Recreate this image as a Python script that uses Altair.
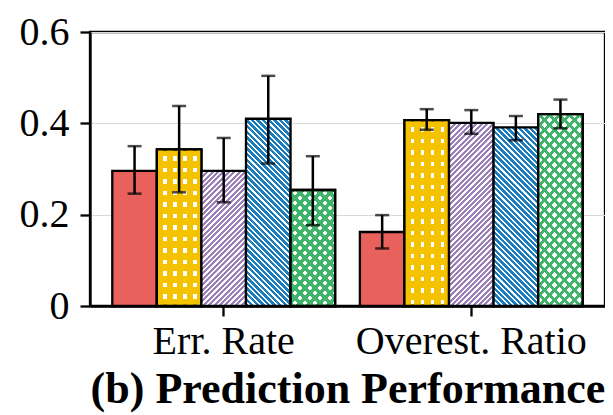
import altair as alt
import pandas as pd

# ---------------- data ----------------
groups = ["Err. Rate", "Overest. Ratio"]
series = ["M1", "M2", "M3", "M4", "M5"]

err_rate_mean = [0.296, 0.343, 0.296, 0.410, 0.254]
err_rate_lo = [0.246, 0.249, 0.227, 0.312, 0.177]
err_rate_hi = [0.350, 0.438, 0.368, 0.504, 0.328]

over_mean = [0.162, 0.407, 0.401, 0.391, 0.420]
over_lo = [0.126, 0.386, 0.377, 0.363, 0.389]
over_hi = [0.199, 0.431, 0.429, 0.416, 0.452]

colors = ["#E8615D", "#F5C200", "#9B80BA", "#1B7DBE", "#40B46B"]
y_ticks = [0, 0.2, 0.4, 0.6]
title_text = "(b) Prediction Performance"

rows = []
for g, m, lo, hi in [(groups[0], err_rate_mean, err_rate_lo, err_rate_hi),
                     (groups[1], over_mean, over_lo, over_hi)]:
    for s, v, l, h in zip(series, m, lo, hi):
        rows.append(dict(group=g, series=s, value=v, lo=l, hi=h))
df = pd.DataFrame(rows)

# ---------------- layout ----------------
W, H = 515, 274
YMAX = 0.6
P_IN, P_OUT = 0.1, 0.09
step = W / (len(groups) - P_IN + 2 * P_OUT)
bar_w = step * (1 - P_IN) / len(series)
FONT = "Liberation Serif"
WHITE = "#FFFFFF"
CLEAR = "rgba(255,255,255,0)"


def stripe_gradient(col_a, col_b, period, frac, direction, w, h):
    """Hatch pattern built from a hard-stop linear gradient (bbox units)."""
    if direction == "h":
        x1, y1, x2, y2, length = 0, 0, 0, 1, h
    elif direction == "v":
        x1, y1, x2, y2, length = 0, 0, 1, 0, w
    else:
        a = (w + h) * w * h / (w * w + h * h)
        length = w + h
        if direction == "up":
            x1, y1, x2, y2 = 0, 0, a / h, a / w
        else:
            x1, y1, x2, y2 = 0, 1, a / h, 1 - a / w
    pt = period / length
    stops = []
    k = 0
    while k * pt < 1:
        o0 = k * pt
        o1 = min(1.0, (k + frac) * pt)
        o2 = min(1.0, (k + 1) * pt)
        stops += [(o0, col_a), (o1, col_a), (o1, col_b), (o2, col_b)]
        k += 1
    return alt.LinearGradient(
        gradient="linear",
        stops=[alt.GradientStop(offset=round(o, 5), color=c) for o, c in stops],
        x1=x1, y1=y1, x2=x2, y2=y2,
    )


# ---------------- encodings ----------------
x_axis = alt.Axis(labelAngle=0, labelPadding=5, title=title_text, labelLimit=0,
                  titlePadding=6, grid=False, tickSize=10)
y_axis = alt.Axis(values=y_ticks, grid=True, tickSize=10, labelPadding=11,
                  labelExpr="datum.value == 0 ? '0' : format(datum.value, '.1f')")
x_enc = alt.X("group:N", sort=groups, axis=x_axis,
              scale=alt.Scale(paddingInner=P_IN, paddingOuter=P_OUT))
xo_enc = alt.XOffset("series:N", sort=series,
                     scale=alt.Scale(domain=series, paddingInner=0, paddingOuter=0))
y_scale = alt.Scale(domain=[0, YMAX], nice=False, zero=True)


def yenc(field):
    return alt.Y(f"{field}:Q", scale=y_scale, axis=y_axis, title=None)


def bar_layer(fill, filt):
    return alt.Chart(df).transform_filter(filt).mark_bar(
        fill=fill, stroke="black", strokeWidth=2.3
    ).encode(x=x_enc, xOffset=xo_enc, y=yenc("value"))


layers = []
# red: solid
layers.append(bar_layer(colors[0], alt.datum.series == series[0]))

for gi, g in enumerate(groups):
    means = err_rate_mean if gi == 0 else over_mean
    for si in range(1, 5):
        h = means[si] * H / YMAX
        filt = (alt.datum.group == g) & (alt.datum.series == series[si])
        c = colors[si]
        if si == 1:  # star-like pattern: grid of small white holes
            layers.append(bar_layer(stripe_gradient(c, WHITE, 11.5, 0.62, "h", bar_w, h), filt))
            layers.append(bar_layer(stripe_gradient(c, CLEAR, 10.0, 0.62, "v", bar_w, h), filt))
        elif si == 2:  # ////
            layers.append(bar_layer(stripe_gradient(c, WHITE, 5.4, 0.55, "up", bar_w, h), filt))
        elif si == 3:  # \\\\
            layers.append(bar_layer(stripe_gradient(c, WHITE, 5.6, 0.58, "down", bar_w, h), filt))
        else:  # crosshatch
            layers.append(bar_layer(stripe_gradient(c, WHITE, 10.0, 0.45, "up", bar_w, h), filt))
            layers.append(bar_layer(stripe_gradient(c, CLEAR, 10.0, 0.45, "down", bar_w, h), filt))

# error bars
layers.append(alt.Chart(df).mark_rule(color="black", strokeWidth=2.5).encode(
    x=x_enc, xOffset=xo_enc, y=yenc("lo"), y2="hi:Q"))
layers.append(alt.Chart(df).mark_tick(color="black", thickness=2.5, size=14).encode(
    x=x_enc, xOffset=xo_enc, y=yenc("lo")))
layers.append(alt.Chart(df).mark_tick(color="black", thickness=2.5, size=14).encode(
    x=x_enc, xOffset=xo_enc, y=yenc("hi")))

chart = alt.layer(*layers).properties(
    width=W, height=H,
    autosize=alt.AutoSizeParams(type="none"),
    padding={"left": 82, "top": 24, "right": 0, "bottom": 107},
).configure_view(
    stroke="black", strokeWidth=2.3
).configure_axis(
    domainColor="black", domainWidth=2.3, tickColor="black", tickWidth=2.3,
    labelFont=FONT, labelFontSize=40, labelColor="black",
    titleFont=FONT, titleFontSize=44, titleFontWeight="bold", titleColor="black",
    gridColor="#d9d9d9", gridWidth=1.2,
)

chart.save("out.html", embed_options={"renderer": "svg", "actions": False})
